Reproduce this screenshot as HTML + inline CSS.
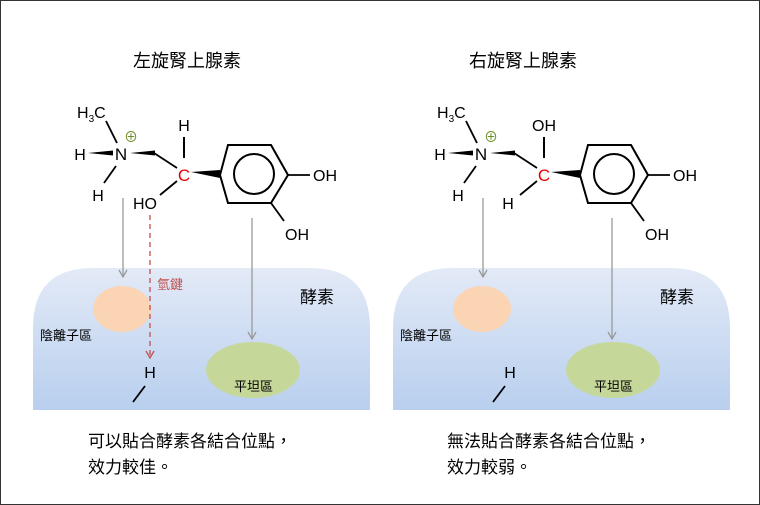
<!DOCTYPE html>
<html><head><meta charset="utf-8"><style>
html,body{margin:0;padding:0;background:#fff}
svg{display:block}
text{font-family:"Liberation Sans","Noto Sans CJK TC",sans-serif}
</style></head><body>
<svg width="760" height="505" viewBox="0 0 760 505" xmlns="http://www.w3.org/2000/svg">
<defs>
<linearGradient id="g" x1="0" y1="0" x2="0" y2="1">
<stop offset="0" stop-color="#e3eaf7"/><stop offset="1" stop-color="#b8cfee"/>
</linearGradient>
<marker id="ag" markerWidth="10" markerHeight="10" refX="8" refY="5" orient="auto" markerUnits="userSpaceOnUse">
<path d="M1,1 L8,5 L1,9" fill="none" stroke="#999" stroke-width="1.3"/></marker>
<marker id="ar" markerWidth="10" markerHeight="10" refX="8" refY="5" orient="auto" markerUnits="userSpaceOnUse">
<path d="M1,1 L8,5 L1,9" fill="none" stroke="#c0504d" stroke-width="1.3"/></marker>
</defs>
<rect x="0.5" y="0.5" width="759" height="504" fill="#fff" stroke="#333" stroke-width="1"/>

<g id="L">
<path d="M33,410 L33,328 Q33,268 93,268 L310,268 Q370,268 370,328 L370,410 Z" fill="url(#g)"/>
<ellipse cx="122" cy="309" rx="29" ry="23" fill="#fbd4b4"/>
<ellipse cx="253" cy="370" rx="47" ry="28" fill="#c5d89a"/>
<text x="300" y="303" font-size="17" fill="#000">酵素</text>
<text x="40" y="340" font-size="13" fill="#000">陰離子區</text>
<text x="234" y="391" font-size="13" fill="#000">平坦區</text>
<text x="150" y="378" font-size="16" text-anchor="middle">H</text>
<line x1="133" y1="402" x2="145" y2="386" stroke="#000" stroke-width="1.8"/>
<line x1="123" y1="198" x2="123" y2="277" stroke="#999" stroke-width="1.3" marker-end="url(#ag)"/>
<line x1="252" y1="218" x2="252" y2="339" stroke="#999" stroke-width="1.3" marker-end="url(#ag)"/>
<text x="77" y="118" font-size="16">H<tspan font-size="10" dy="4">3</tspan><tspan dy="-4">C</tspan></text>
<line x1="106" y1="121" x2="117" y2="143" stroke="#000" stroke-width="1.8"/>
<text x="121" y="160" font-size="17" text-anchor="middle">N</text>
<text x="131" y="142" font-size="14" fill="#6b8e23" text-anchor="middle">⊕</text>
<text x="80" y="160" font-size="16" text-anchor="middle">H</text>
<polygon points="88,153 113,150.5 113,155.5" fill="#000"/>
<text x="98" y="201" font-size="16" text-anchor="middle">H</text>
<line x1="116" y1="166" x2="104" y2="183" stroke="#000" stroke-width="1.8"/>
<polygon points="130,153 155,150.5 155,155.5" fill="#000"/>
<line x1="154" y1="153" x2="177" y2="168" stroke="#000" stroke-width="1.8"/>
<text x="184" y="181" font-size="17" fill="#e00" text-anchor="middle">C</text>
<polygon points="191,172 220,170 220,178" fill="#000"/>
<polygon points="228,145 271,145 288,175 271,203 228,203 220,175" fill="none" stroke="#000" stroke-width="2"/>
<circle cx="254" cy="174" r="20" fill="none" stroke="#000" stroke-width="2"/>
<line x1="288" y1="175" x2="310" y2="175" stroke="#000" stroke-width="1.8"/>
<text x="313" y="181" font-size="16">OH</text>
<line x1="271" y1="203" x2="284" y2="221" stroke="#000" stroke-width="1.8"/>
<text x="285" y="240" font-size="16">OH</text>
</g>
<text x="184" y="131" font-size="16" text-anchor="middle">H</text>
<line x1="184" y1="137" x2="184" y2="158" stroke="#000" stroke-width="2"/>
<text x="145" y="209" font-size="16" text-anchor="middle">HO</text>
<line x1="160" y1="195" x2="177" y2="181" stroke="#000" stroke-width="1.8"/>
<line x1="150" y1="215" x2="150" y2="358" stroke="#c0504d" stroke-width="1.3" stroke-dasharray="5,4" marker-end="url(#ar)"/>
<text x="157" y="289" font-size="13" fill="#c0504d">氫鍵</text>
<text x="187" y="67" font-size="18" text-anchor="middle">左旋腎上腺素</text>
<text x="88" y="447" font-size="17">可以貼合酵素各結合位點，</text>
<text x="88" y="473" font-size="17">效力較佳。</text>

<use href="#L" x="360" y="0"/>
<text x="544" y="131" font-size="16" text-anchor="middle">OH</text>
<line x1="544" y1="137" x2="544" y2="158" stroke="#000" stroke-width="2"/>
<text x="508" y="209" font-size="16" text-anchor="middle">H</text>
<line x1="520" y1="195" x2="537" y2="181" stroke="#000" stroke-width="1.8"/>
<text x="523" y="67" font-size="18" text-anchor="middle">右旋腎上腺素</text>
<text x="447" y="447" font-size="17">無法貼合酵素各結合位點，</text>
<text x="447" y="473" font-size="17">效力較弱。</text>
</svg>
</body></html>
